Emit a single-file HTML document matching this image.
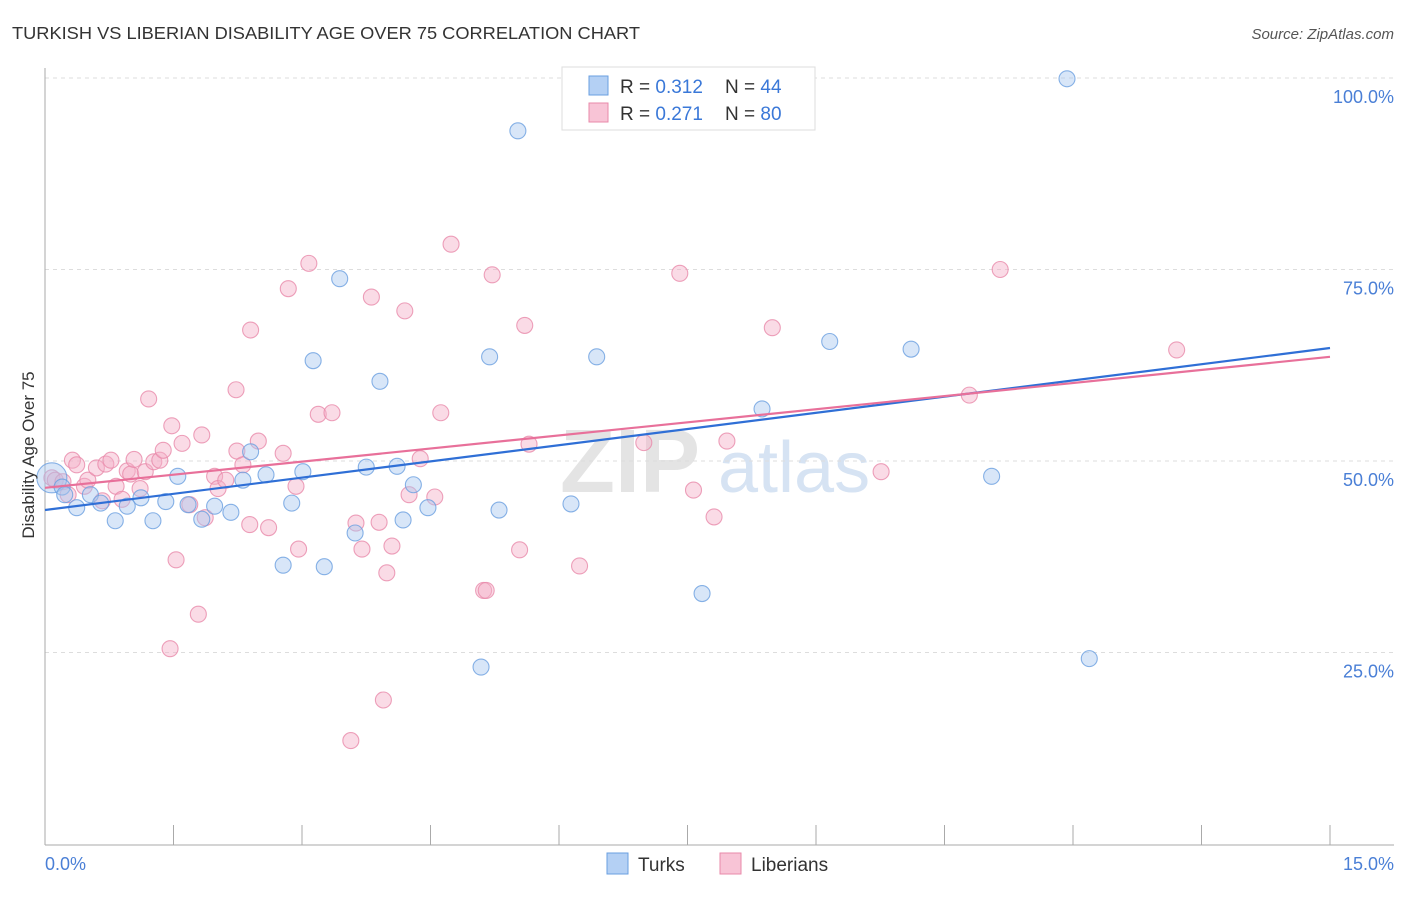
<!DOCTYPE html>
<html><head><meta charset="utf-8"><style>
body{margin:0;background:#fff;font-family:"Liberation Sans",sans-serif}
svg text{font-family:"Liberation Sans",sans-serif}
</style></head><body>
<svg id="c" width="1406" height="892" xmlns="http://www.w3.org/2000/svg">
<text x="12" y="39" font-size="17.5" fill="#333" textLength="628" lengthAdjust="spacingAndGlyphs">TURKISH VS LIBERIAN DISABILITY AGE OVER 75 CORRELATION CHART</text>
<text x="1394" y="39" font-size="15" fill="#555" font-style="italic" text-anchor="end">Source: ZipAtlas.com</text>
<text x="560" y="492" font-size="90" fill="#e4e4e4" font-family="Liberation Serif" font-weight="bold">ZIP</text>
<text x="718" y="492" font-size="72" fill="#d6e3f3">atlas</text>
<g id="grid"></g><g id="marks"></g>
<text transform="translate(34,455) rotate(-90)" font-size="17" fill="#333" text-anchor="middle">Disability Age Over 75</text>
<text x="45" y="870" font-size="18" fill="#4a7fd6">0.0%</text>
<text x="1394" y="870" font-size="18" fill="#4a7fd6" text-anchor="end">15.0%</text>
<g>
<rect x="562" y="67" width="253" height="63" fill="#fff" stroke="#ddd"/>
<rect x="589" y="76" width="19" height="19" fill="#b4d0f4" stroke="#6a9fe0"/>
<rect x="589" y="103" width="19" height="19" fill="#f8c4d6" stroke="#e88aaa"/>
<text x="620" y="93" font-size="19" fill="#333">R = <tspan fill="#3a78d8">0.312</tspan></text>
<text x="725" y="93" font-size="19" fill="#333">N = <tspan fill="#3a78d8">44</tspan></text>
<text x="620" y="120" font-size="19" fill="#333">R = <tspan fill="#3a78d8">0.271</tspan></text>
<text x="725" y="120" font-size="19" fill="#333">N = <tspan fill="#3a78d8">80</tspan></text>
</g>
<rect x="607" y="853" width="21" height="21" fill="#b4d0f4" stroke="#6a9fe0"/>
<text x="638" y="871" font-size="19" fill="#333">Turks</text>
<rect x="720" y="853" width="21" height="21" fill="#f8c4d6" stroke="#e88aaa"/>
<text x="751" y="871" font-size="19" fill="#333">Liberians</text>
</svg>
<script>
const yTicks=[25,50,75,100];
const xTickCount=10;
const turksX=[0.08,0.2,0.23,0.37,0.53,0.65,0.82,0.96,1.12,1.26,1.41,1.55,1.67,1.83,1.98,2.17,2.31,2.4,2.58,2.78,2.88,3.01,3.13,3.26,3.44,3.62,3.75,3.91,4.11,4.18,4.3,4.47,5.09,5.19,5.3,5.52,6.14,6.44,7.67,8.37,9.16,10.11,11.05,11.93,12.19];
const turksY=[47.8,46.6,45.6,43.9,45.6,44.5,42.2,44.1,45.2,42.2,44.7,48,44.3,42.4,44.1,43.3,47.5,51.2,48.2,36.4,44.5,48.6,63.1,36.2,73.8,40.6,49.2,60.4,49.3,42.3,46.9,43.9,23.1,63.6,43.6,93.1,44.4,63.6,32.7,56.8,65.6,64.6,48,99.9,24.2];
const libX=[0.08,0.12,0.21,0.27,0.32,0.37,0.46,0.5,0.6,0.67,0.71,0.77,0.83,0.9,0.96,1.0,1.04,1.11,1.17,1.21,1.27,1.34,1.38,1.48,1.53,1.46,1.6,1.69,1.79,1.83,1.87,1.98,2.02,2.11,2.23,2.24,2.31,2.4,2.39,2.49,2.61,2.78,2.84,2.93,2.96,3.08,3.19,3.35,3.57,3.63,3.7,3.81,3.9,3.95,3.99,4.05,4.2,4.25,4.38,4.55,4.62,4.74,5.12,5.15,5.22,5.54,5.6,5.65,6.24,6.99,7.41,7.57,7.81,7.96,8.49,9.76,10.79,11.15,13.21];
const libY=[47.8,47.5,47.3,45.6,50.1,49.5,46.7,47.5,49.1,44.8,49.6,50.1,46.7,45,48.7,48.3,50.2,46.4,48.6,58.1,49.9,50.1,51.4,54.6,37.1,25.5,52.3,44.3,30,53.4,42.6,48,46.4,47.5,59.3,51.3,49.5,67.1,41.7,52.6,41.3,51,72.5,46.7,38.5,75.8,56.1,56.3,13.5,41.9,38.5,71.4,42,18.8,35.4,38.9,69.6,45.6,50.3,45.3,56.3,78.3,33.1,33.1,74.3,38.4,67.7,52.2,36.3,52.4,74.5,46.2,42.7,52.6,67.4,48.6,58.6,75,64.5];
const turksFit=[43.6,64.75];
const libFit=[46.5,63.6];
const X0=45,X1=1330,Y0=844,Y100=78;
const sx=v=>X0+v/15*(X1-X0);
const sy=v=>Y0-v/100*(Y0-Y100);
const NS="http://www.w3.org/2000/svg";
const grid=document.getElementById('grid'),marks=document.getElementById('marks');
function mk(tag,a,parent){const e=document.createElementNS(NS,tag);for(const k in a)e.setAttribute(k,a[k]);parent.appendChild(e);return e;}
yTicks.forEach(t=>{
 const l=mk('line',{x1:X0,x2:1394,y1:sy(t),y2:sy(t),stroke:'#ddd','stroke-dasharray':'4,4'},grid);
 
 
 const tx=mk('text',{x:1394,y:sy(t)+25,'font-size':18,fill:'#4a7fd6','text-anchor':'end'},grid);
 tx.textContent=t.toFixed(1)+'%';
 
 
});
const ax=mk('line',{x1:X0,x2:X0,y1:68,y2:845,stroke:'#aaa'},grid);


const bx=mk('line',{x1:X0,x2:1394,y1:845,y2:845,stroke:'#aaa'},grid);


for(let i=1;i<=xTickCount;i++){
 const t=mk('line',{x1:sx(i*1.5),x2:sx(i*1.5),y1:825,y2:845,stroke:'#aaa'},grid);
 
 
}
function pts(xs,ys,fill,stroke,name){
 xs.forEach((x,i)=>{
  const big=i===0&&name==='turk-point';
  const c=mk('circle',{cx:sx(x),cy:sy(ys[i]),r:big?15:8,fill:fill,'fill-opacity':0.45,stroke:stroke,'stroke-width':1.1,'stroke-opacity':0.8},marks);
  
  
 });
}
pts(libX,libY,'#f5b0c8','#e88aaa','liberian-point');
pts(turksX,turksY,'#a8c8f0','#6a9fe0','turk-point');
const tl=mk('line',{x1:sx(0),y1:sy(turksFit[0]),x2:sx(15),y2:sy(turksFit[1]),stroke:'#2f6fd6','stroke-width':2.2},marks);


const ll=mk('line',{x1:sx(0),y1:sy(libFit[0]),x2:sx(15),y2:sy(libFit[1]),stroke:'#e8709a','stroke-width':2.2},marks);


</script>
</body></html>
